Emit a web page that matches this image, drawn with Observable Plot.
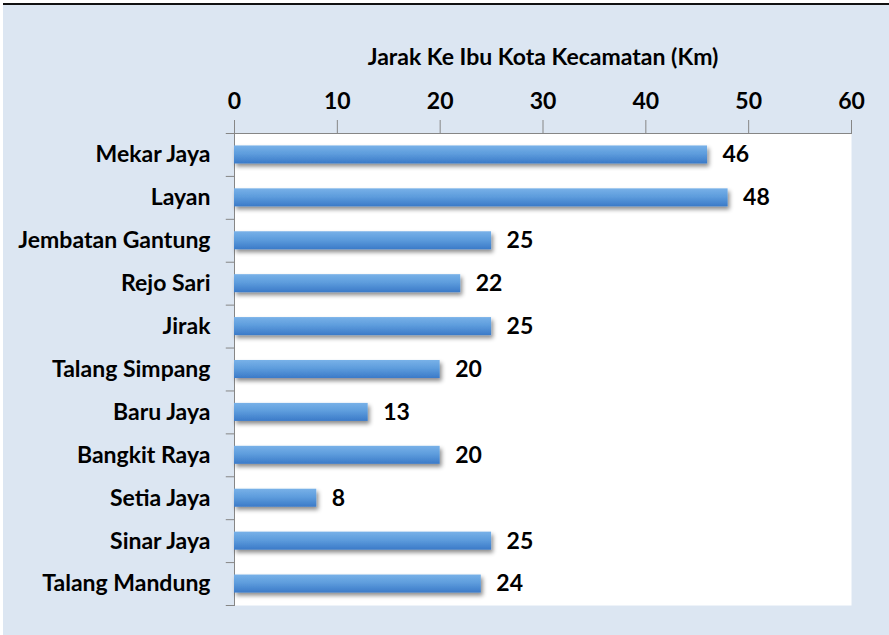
<!DOCTYPE html>
<html>
<head>
<meta charset="utf-8">
<script src="https://cdn.jsdelivr.net/npm/d3@7"></script>
<script src="https://cdn.jsdelivr.net/npm/@observablehq/plot@0.6"></script>
<style>
  html, body { margin: 0; padding: 0; background: #fff; }
  #frame {
    position: absolute; left: 3px; top: 3px; width: 886px; height: 630px;
    border-top: 2px solid #111; background: #dce6f2;
  }
  #frame svg { display: block; }
</style>
</head>
<body>
<div id="frame"></div>
<script>
const categories = ["Mekar Jaya", "Layan", "Jembatan Gantung", "Rejo Sari", "Jirak",
  "Talang Simpang", "Baru Jaya", "Bangkit Raya", "Setia Jaya", "Sinar Jaya", "Talang Mandung"];
const values = [46, 48, 25, 22, 25, 20, 13, 20, 8, 25, 24];
const xTicks = [0, 10, 20, 30, 40, 50, 60];
const title = "Jarak Ke Ibu Kota Kecamatan (Km)";

const data = categories.map((c, i) => ({category: c, value: values[i]}));
const font = "Lato, 'Open Sans', sans-serif";
const axisGray = "#868686";
const fs = 23;
const H = 630, mTop = 128, mBottom = 30;
const step = (H - mTop - mBottom) / categories.length;

const chart = Plot.plot({
  width: 886,
  height: H,
  marginLeft: 231,
  marginRight: 38,
  marginTop: mTop,
  marginBottom: mBottom,
  style: {background: "transparent", fontFamily: font, fontSize: fs + "px", fontWeight: "bold", color: "#000", overflow: "visible"},
  x: {domain: [0, 60]},
  y: {domain: categories, paddingInner: 0.58, paddingOuter: 0.29, round: false},
  marks: [
    Plot.frame({fill: "white", stroke: null}),
    Plot.axisX({anchor: "top", ticks: xTicks, tickSize: 14, tickPadding: 11, stroke: axisGray, strokeOpacity: 1, label: null, fontSize: fs, fill: "#000"}),
    Plot.axisY({anchor: "left", tickSize: 0, tickPadding: 24, label: null, fontSize: fs, fill: "#000"}),
    Plot.ruleY(categories, {y: d => d, x1: -0.8, x2: 0, dy: -step / 2, stroke: axisGray, clip: false}),
    Plot.ruleY([categories[categories.length - 1]], {y: d => d, x1: -0.8, x2: 0, dy: step / 2, stroke: axisGray, clip: false}),
    Plot.frame({anchor: "top", stroke: axisGray}),
    Plot.frame({anchor: "left", stroke: axisGray}),
    Plot.barX(data, {x: "value", y: "category", fill: "url(#barGrad)"}),
    Plot.text(data, {x: "value", y: "category", text: d => String(d.value), dx: 15, textAnchor: "start", fontSize: fs, fontWeight: "bold", fill: "#000"}),
    Plot.text([title], {frameAnchor: "top", text: d => d, dy: -76, lineAnchor: "middle", fontSize: fs, fontWeight: "bold", fill: "#000"})
  ]
});

const svg = d3.select(chart);
const defs = svg.insert("defs", ":first-child");
const g = defs.append("linearGradient").attr("id", "barGrad").attr("x1", 0).attr("y1", 0).attr("x2", 0).attr("y2", 1);
g.append("stop").attr("offset", "0%").attr("stop-color", "#78b1e8");
g.append("stop").attr("offset", "45%").attr("stop-color", "#5e9ddd");
g.append("stop").attr("offset", "100%").attr("stop-color", "#3b7ac8");
const f = defs.append("filter").attr("id", "barShadow").attr("x", "-10%").attr("y", "-50%").attr("width", "130%").attr("height", "250%");
f.append("feDropShadow").attr("dx", 2).attr("dy", 3).attr("stdDeviation", 2).attr("flood-color", "#000").attr("flood-opacity", 0.45);
svg.selectAll("g[aria-label='bar'] rect").attr("filter", "url(#barShadow)");

document.getElementById("frame").appendChild(chart);
</script>
</body>
</html>
